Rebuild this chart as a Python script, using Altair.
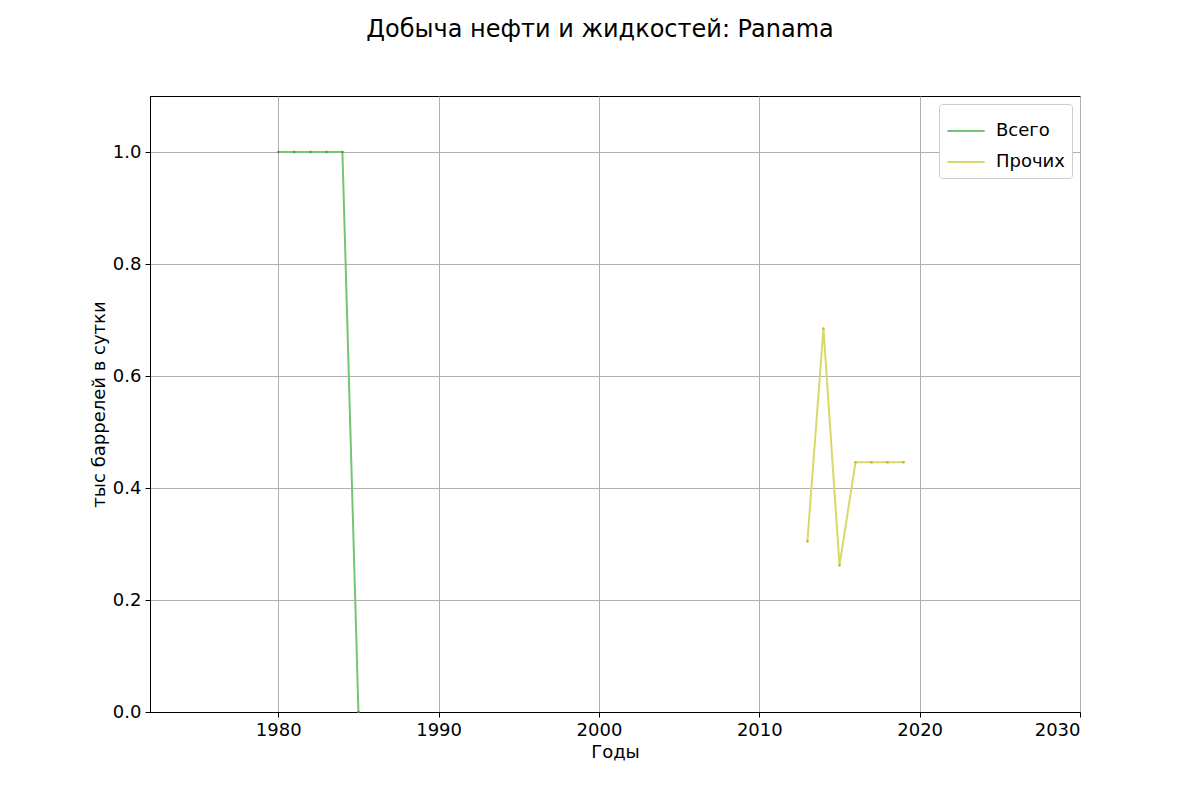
import altair as alt
import pandas as pd

years_total = [1980, 1981, 1982, 1983, 1984, 1985]
vals_total = [1.0, 1.0, 1.0, 1.0, 1.0, 0.0]
years_other = [2013, 2014, 2015, 2016, 2017, 2018, 2019]
vals_other = [0.305, 0.685, 0.262, 0.446, 0.446, 0.446, 0.446]
series = ["Всего", "Прочих"]
colors = ["#74c476", "#d9d96a"]
dot_colors = ["#4a9a4a", "#b8b830"]

df = pd.concat([
    pd.DataFrame({"year": years_total, "v": vals_total, "s": series[0]}),
    pd.DataFrame({"year": years_other, "v": vals_other, "s": series[1]}),
])

x = alt.X("year:Q", title="Годы", scale=alt.Scale(domain=[1972, 2030], nice=False),
          axis=alt.Axis(values=[1980, 1990, 2000, 2010, 2020, 2030], format="d"))
y = alt.Y("v:Q", title="тыс баррелей в сутки", scale=alt.Scale(domain=[0, 1.1], nice=False),
          axis=alt.Axis(values=[0, 0.2, 0.4, 0.6, 0.8, 1.0], format=".1f"))

lines = alt.Chart(df).mark_line(strokeWidth=2).encode(
    x=x, y=y,
    color=alt.Color("s:N", scale=alt.Scale(domain=series, range=colors),
                    legend=alt.Legend(title=None, orient="top-right", symbolType="stroke",
                                      symbolStrokeWidth=2, symbolSize=1400, labelFontSize=18,
                                      fillColor="white", strokeColor="#cccccc", padding=7,
                                      cornerRadius=3, offset=8, labelOffset=10)))
pts = alt.Chart(df).mark_point(size=6, filled=True, opacity=1).encode(
    x=x, y=y,
    color=alt.Color("s:N", scale=alt.Scale(domain=series, range=dot_colors), legend=None))

chart = alt.layer(lines, pts).resolve_scale(color="independent").properties(
    width=930, height=616,
    autosize=alt.AutoSizeParams(type="none"),
    padding={"left": 142, "top": 88, "right": 112, "bottom": 80},
    title=alt.TitleParams("Добыча нефти и жидкостей: Panama", fontSize=24, fontWeight="normal",
                          offset=54, dx=-15, font="DejaVu Sans"),
).configure_axis(
    grid=True, gridColor="#b0b0b0", gridWidth=1, domainColor="black", tickColor="black",
    labelFontSize=18, titleFontSize=18, labelColor="black", titleColor="black",
    titleFontWeight="normal", labelFont="DejaVu Sans", titleFont="DejaVu Sans",
    tickSize=5, labelPadding=4,
).configure_view(stroke="black", strokeWidth=1
).configure_legend(labelFont="DejaVu Sans")

chart.save("out.html", embed_options={"renderer": "svg", "actions": False})
